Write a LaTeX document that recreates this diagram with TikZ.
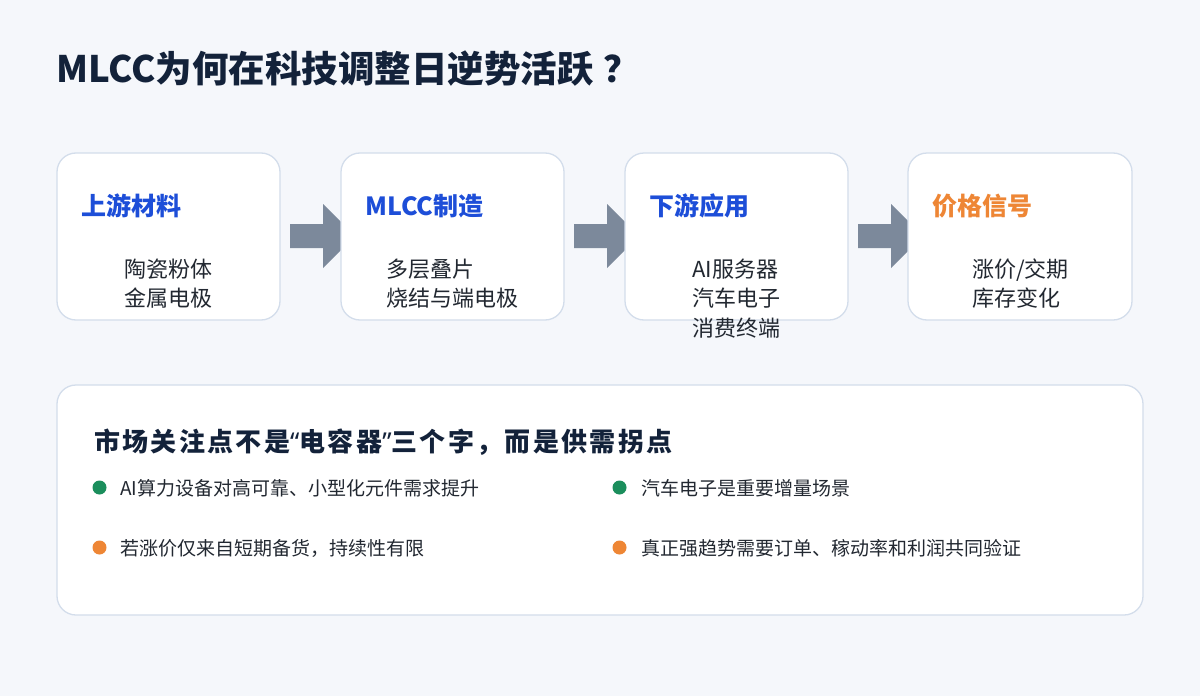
\documentclass[tikz,border=0pt]{standalone}
\usepackage{fontspec}
\setmainfont{Noto Sans CJK SC}
\newfontfamily\headfont[LetterSpace=9]{Noto Sans CJK SC}
\newfontfamily\quotefont{Noto Sans}
\definecolor{bg}{HTML}{F5F7FB}
\definecolor{boxline}{HTML}{D3DDEB}
\definecolor{titleblue}{HTML}{1D4ED8}
\definecolor{sigorange}{HTML}{EE8635}
\definecolor{dotgreen}{HTML}{1B8E5C}
\definecolor{arrowgray}{HTML}{7C899B}
\definecolor{darktitle}{HTML}{13223A}
\definecolor{bodytext}{HTML}{222831}
\tikzset{
  card/.style={draw=boxline, line width=1.3pt, fill=white, rounded corners=19pt},
  cardtitle/.style={anchor=base west, inner sep=0pt, font=\bfseries\fontsize{25}{29}\selectfont},
  cardline/.style={anchor=base west, inner sep=0pt, text=bodytext, font=\fontsize{22}{26}\selectfont},
  bigarrow/.style={fill=arrowgray, draw=none},
  bulletdot/.style={circle, minimum size=14pt, inner sep=0pt},
  bullettext/.style={anchor=base west, inner sep=0pt, text=bodytext, font=\fontsize{19}{23}\selectfont},
}
\begin{document}
\begin{tikzpicture}[x=1pt, y=-1pt]
\fill[bg] (0,0) rectangle (1200,696);
\useasboundingbox (0,0) rectangle (1200,696);

% title
\node[anchor=base west, inner sep=0pt, text=darktitle, font=\bfseries\fontsize{36.5}{42}\selectfont] (title) at (56,82) {MLCC为何在科技调整日逆势活跃\kern10pt ？};

% arrows (drawn behind cards)
\foreach \ax in {290,574,858}{
  \fill[bigarrow] (\ax,224) -- (\ax+33,224) -- (\ax+33,204) -- (\ax+65,236) -- (\ax+33,268) -- (\ax+33,248) -- (\ax,248) -- cycle;
}

% cards
\draw[card] (57,153) rectangle (280,320);
\node (c1) at (168.5,236.5) {};
\draw[card] (341,153) rectangle (564,320);
\node (c2) at (452.5,236.5) {};
\draw[card] (625,153) rectangle (848,320);
\node (c3) at (736.5,236.5) {};
\draw[card] (908,153) rectangle (1132,320);
\node (c4) at (1020,236.5) {};

\node[cardtitle, text=titleblue] (t1) at (81,215) {上游材料};
\node[cardline] (l11) at (124,277) {陶瓷粉体};
\node[cardline] (l12) at (124,306.5) {金属电极};

\node[cardtitle, text=titleblue] (t2) at (365,215) {MLCC制造};
\node[cardline] (l21) at (386,277) {多层叠片};
\node[cardline] (l22) at (386,306.5) {烧结与端电极};

\node[cardtitle, text=titleblue] (t3) at (649,215) {下游应用};
\node[cardline] (l31) at (692,277) {AI服务器};
\node[cardline] (l32) at (692,306.5) {汽车电子};
\node[cardline] (l33) at (692,336) {消费终端};

\node[cardtitle, text=sigorange] (t4) at (932,215) {价格信号};
\node[cardline] (l41) at (972,277) {涨价/交期};
\node[cardline] (l42) at (972,306.5) {库存变化};

% bottom panel
\draw[card] (57,385) rectangle (1143,615);
\node[anchor=base west, inner sep=0pt, text=darktitle, font=\headfont\bfseries\fontsize{26}{30}\selectfont] (head) at (94,451) {市场关注点不是{\quotefont\bfseries “}电容器{\quotefont\bfseries ”}三个字，而是供需拐点};

\node[bulletdot, fill=dotgreen] (d1) at (99.5,487.5) {};
\node[bullettext] (b1) at (120,495) {AI算力设备对高可靠、小型化元件需求提升};
\node[bulletdot, fill=sigorange] (d2) at (99.5,547.5) {};
\node[bullettext] (b2) at (120,555) {若涨价仅来自短期备货，持续性有限};
\node[bulletdot, fill=dotgreen] (d3) at (619.5,487.5) {};
\node[bullettext] (b3) at (641,495) {汽车电子是重要增量场景};
\node[bulletdot, fill=sigorange] (d4) at (619.5,547.5) {};
\node[bullettext] (b4) at (641,555) {真正强趋势需要订单、稼动率和利润共同验证};
\end{tikzpicture}
\end{document}
